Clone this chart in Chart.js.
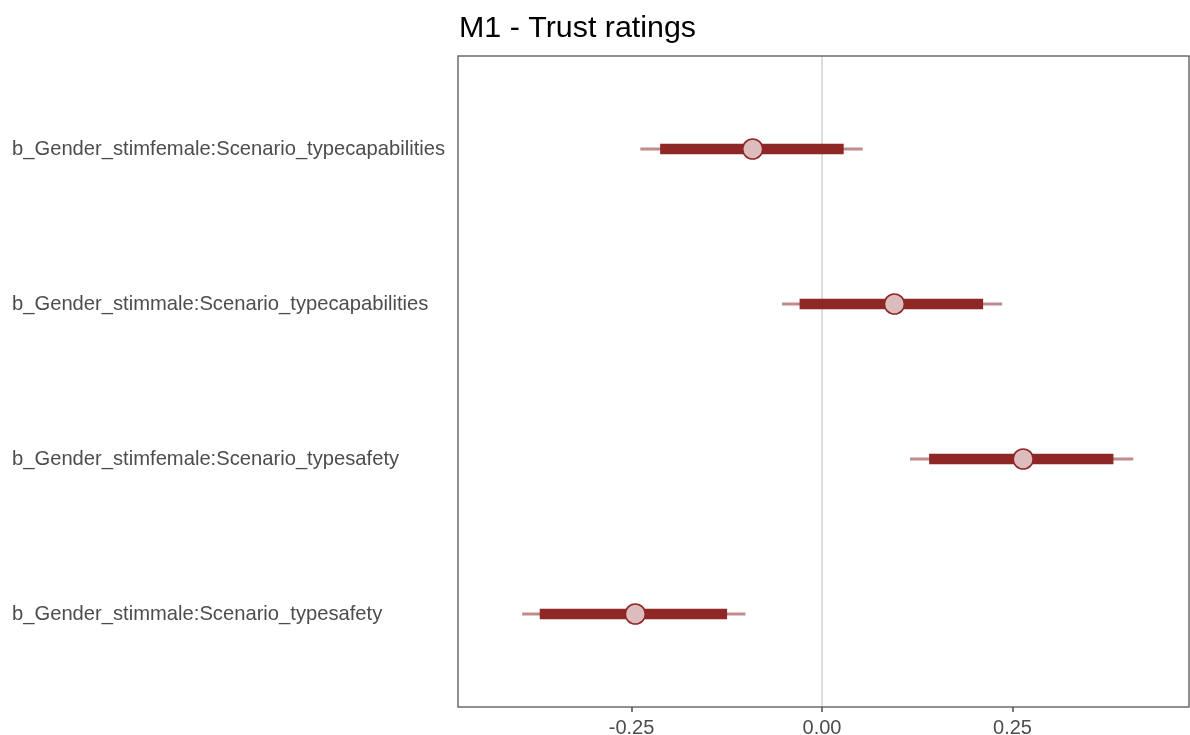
<!DOCTYPE html>
<html>
<head>
<meta charset="utf-8">
<script src="https://cdn.jsdelivr.net/npm/chart.js@4.4.1/dist/chart.umd.min.js"></script>
<style>
  html, body { margin: 0; padding: 0; background: #ffffff; }
  #wrap { width: 1190px; height: 735px; position: relative; }
</style>
</head>
<body>
<div id="wrap"><canvas id="chart" width="1190" height="735"></canvas></div>
<script>
// Posterior summaries for the interaction terms of model M1
const params = [
  'b_Gender_stimfemale:Scenario_typecapabilities',
  'b_Gender_stimmale:Scenario_typecapabilities',
  'b_Gender_stimfemale:Scenario_typesafety',
  'b_Gender_stimmale:Scenario_typesafety'
];
const outerLow  = [-0.238, -0.052, 0.116, -0.393];
const innerLow  = [-0.212, -0.029, 0.141, -0.370];
const medians   = [-0.091,  0.095, 0.264, -0.245];
const innerHigh = [ 0.028,  0.211, 0.382, -0.125];
const outerHigh = [ 0.053,  0.236, 0.408, -0.101];
const xTicks = [-0.25, 0, 0.25];

const TITLE = 'M1 - Trust ratings';
const FONT = '"Liberation Sans", Arial, Helvetica, sans-serif';

const rows = params.map((_, i) => i + 1);

const panelDecor = {
  id: 'panelDecor',
  afterDraw(chart) {
    const { ctx, chartArea: a } = chart;
    ctx.save();
    // panel border
    ctx.strokeStyle = '#555555';
    ctx.lineWidth = 1.3;
    ctx.strokeRect(a.left, a.top, a.right - a.left, a.bottom - a.top);
    // title, left-aligned with the panel
    ctx.fillStyle = '#000000';
    ctx.font = '30.4px ' + FONT;
    ctx.textAlign = 'left';
    ctx.textBaseline = 'alphabetic';
    ctx.fillText(TITLE, a.left + 1, 37);
    ctx.restore();
  }
};

new Chart(document.getElementById('chart'), {
  type: 'bar',
  data: {
    datasets: [
      {
        label: 'outer',
        data: rows.map((y, i) => ({ x: [outerLow[i], outerHigh[i]], y })),
        backgroundColor: '#c08b8b',
        borderWidth: 0,
        barThickness: 2.4,
        grouped: false,
        order: 3
      },
      {
        label: 'inner',
        data: rows.map((y, i) => ({ x: [innerLow[i], innerHigh[i]], y })),
        backgroundColor: '#8f2727',
        borderWidth: 0,
        barThickness: 10,
        grouped: false,
        order: 2
      },
      {
        type: 'scatter',
        label: 'median',
        indexAxis: 'x',
        data: rows.map((y, i) => ({ x: medians[i], y })),
        pointRadius: 10,
        pointHoverRadius: 10,
        backgroundColor: '#dcbcbc',
        borderColor: '#8f2727',
        borderWidth: 1.6,
        order: 1
      }
    ]
  },
  options: {
    indexAxis: 'y',
    responsive: false,
    animation: false,
    devicePixelRatio: 1,
    layout: { autoPadding: false, padding: { left: 12, top: 56, right: 1, bottom: 0 } },
    plugins: {
      legend: { display: false },
      tooltip: { enabled: false },
      title: { display: false }
    },
    scales: {
      x: {
        type: 'linear',
        min: -0.4777,
        max: 0.4816,
        afterBuildTicks(scale) { scale.ticks = xTicks.map(v => ({ value: v })); },
        afterFit(scale) { scale.height = 28; },
        border: { display: false },
        grid: {
          drawOnChartArea: true,
          color: ctx => (ctx.tick && ctx.tick.value === 0) ? '#dedede' : 'rgba(0,0,0,0)',
          lineWidth: 2,
          drawTicks: true,
          tickLength: 5,
          tickColor: '#333333',
          tickWidth: 1.3
        },
        ticks: {
          padding: 4,
          color: '#4d4d4d',
          font: { family: FONT, size: 20 },
          callback: v => v.toFixed(2),
          maxRotation: 0
        }
      },
      y: {
        type: 'linear',
        min: 0.4,
        max: 4.6,
        offset: false,
        reverse: true,
        afterBuildTicks(scale) { scale.ticks = rows.map(v => ({ value: v })); },
        afterFit(scale) { scale.width = 446; },
        border: { display: false },
        grid: { display: false, drawTicks: false },
        ticks: {
          crossAlign: 'far',
          padding: 0,
          color: '#4d4d4d',
          font: { family: FONT, size: 20.2 },
          callback: v => params[v - 1]
        }
      }
    }
  },
  plugins: [panelDecor]
});
</script>
</body>
</html>
